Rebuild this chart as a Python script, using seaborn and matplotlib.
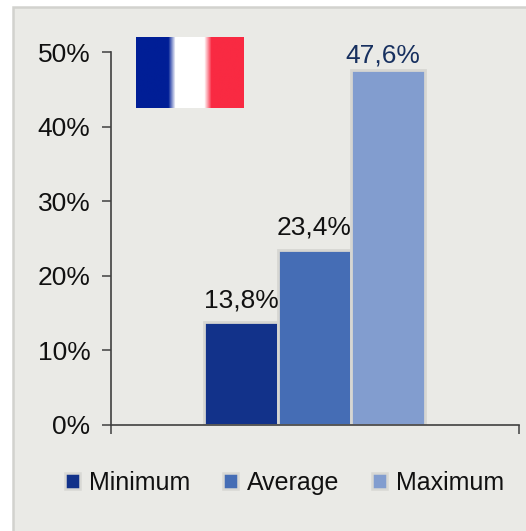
import numpy as np
import pandas as pd
import matplotlib
matplotlib.use("Agg")
import matplotlib.pyplot as plt
from matplotlib.patches import Rectangle
from matplotlib.colors import to_rgb
import seaborn as sns

series = ["Minimum", "Average", "Maximum"]
values = [13.8, 23.4, 47.6]
labels = ["13,8%", "23,4%", "47,6%"]
label_colors = ["#111111", "#111111", "#17305f"]
label_offsets = [(0, 7), (0, 8), (-3.5, 2)]
colors = ["#12328a", "#456db5", "#829dcf"]
yticks = [0, 10, 20, 30, 40, 50]
flag_colors = ["#001e96", "#ffffff", "#f92a42"]

W, H = 526, 531
BG = "#eaeae6"
EDGE = "#d2d2ce"

sns.set_theme(style="white")
plt.rcParams["font.family"] = ["Liberation Sans", "DejaVu Sans"]

fig = plt.figure(figsize=(W / 100, H / 100), dpi=100, facecolor="white")
fig.add_artist(Rectangle((13 / W, -0.02), (W) / W, (H - 7) / H + 0.02, transform=fig.transFigure,
                         facecolor=BG, edgecolor=EDGE, linewidth=1.8, zorder=-5))

x0, x1, y0, y1 = 110.5, 518.5, 425, 52
ax = fig.add_axes([x0 / W, 1 - y0 / H, (x1 - x0) / W, (y0 - y1) / H])
ax.patch.set_alpha(0)

df = pd.DataFrame({"group": ["France"] * 3, "series": series, "value": values})
sns.barplot(data=df, x="group", y="value", hue="series", palette=colors, hue_order=series,
            ax=ax, width=0.54, gap=0.0, saturation=1, legend=False,
            edgecolor="#d6d6d2", linewidth=2)

ax.set_ylim(0, 50)
ax.set_xlim(-0.5, 0.5)
ax.set_xlabel("")
ax.set_ylabel("")
ax.set_yticks(yticks)
ax.set_yticklabels([f"{t}%" for t in yticks], fontsize=19, color="#111111")
ax.set_xticks([-0.5, 0.5])
ax.set_xticklabels(["", ""])
ax.tick_params(axis="both", length=6.5, width=1.1, color="#404040", left=True, bottom=True, pad=8)
for s in ("top", "right"):
    ax.spines[s].set_visible(False)
for s in ("left", "bottom"):
    ax.spines[s].set_color("#404040")
    ax.spines[s].set_linewidth(1.2)

for bar, lab, col, off in zip(ax.patches, labels, label_colors, label_offsets):
    ax.annotate(lab, (bar.get_x() + bar.get_width() / 2, bar.get_height()), xytext=off,
                textcoords="offset points", ha="center", va="bottom", fontsize=19, color=col)

# flag: three bands with a short soft transition between them
flag = fig.add_axes([135.5 / W, 1 - 108 / H, 107.5 / W, 71 / H])
flag_img = np.repeat(np.array([[to_rgb(c) for c in flag_colors]]), 5, axis=1)
flag.imshow(flag_img, aspect="auto", interpolation="bilinear")
flag.axis("off")

# legend
handles = [Rectangle((0, 0), 1, 1, facecolor=c, edgecolor="#d8d8d4", linewidth=1.8) for c in colors]
fig.legend(handles, series, loc="center", bbox_to_anchor=(284.5 / W, 1 - 483 / H), ncol=3, frameon=False,
           fontsize=18, handlelength=0.6, handleheight=0.6, handletextpad=0.36, columnspacing=1.32,
           labelcolor="#111111", borderpad=0, borderaxespad=0)

fig.savefig("out.png", dpi=100, facecolor="white")
